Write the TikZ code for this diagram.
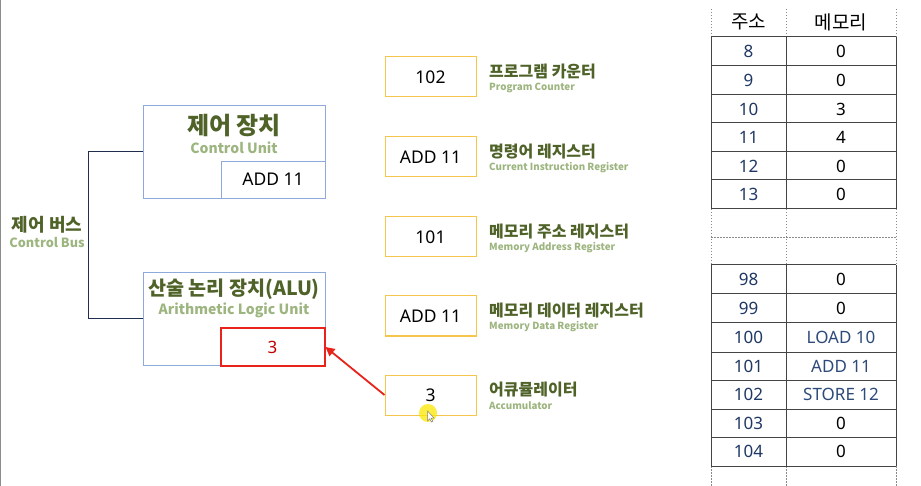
\documentclass[tikz,border=0pt]{standalone}
\usepackage{fontspec}
\setmainfont{Noto Sans CJK KR}
\newfontfamily\latinf{Noto Sans}
\usetikzlibrary{arrows.meta}
\definecolor{ttl}{HTML}{4F6228}
\definecolor{sub}{HTML}{9DB57F}
\definecolor{bluebox}{HTML}{8EAADB}
\definecolor{goldbox}{HTML}{F5C54E}
\definecolor{redbox}{HTML}{E8231A}
\definecolor{redtxt}{HTML}{C00000}
\definecolor{navy}{HTML}{1F3864}
\definecolor{instr}{HTML}{2E4A7A}
\definecolor{busc}{HTML}{1F2D4F}
\definecolor{grid}{HTML}{444444}
\definecolor{dash}{HTML}{8A8A8A}
\tikzset{
  unitbox/.style={draw=bluebox, line width=0.9pt, minimum width=182pt, minimum height=93pt, inner sep=0pt},
  irbox/.style={draw=bluebox, line width=0.9pt, minimum width=104pt, minimum height=37pt, inner sep=0pt, font=\latinf\fontsize{17.5}{20}\selectfont},
  accbox/.style={draw=redbox, line width=2pt, minimum width=104pt, minimum height=37pt, inner sep=0pt, text=redtxt, font=\latinf\fontsize{17}{20}\selectfont},
  regbox/.style={draw=goldbox, line width=1pt, minimum width=91pt, minimum height=40pt, inner sep=0pt, font=\latinf\fontsize{17.5}{20}\selectfont},
  bigtitle/.style={text=ttl, font=\fontsize{24}{26}\selectfont\bfseries, inner sep=0pt},
  bigsub/.style={text=sub, font=\fontsize{14}{16}\selectfont\bfseries, inner sep=0pt},
  regkr/.style={anchor=west, text=ttl, font=\fontsize{16}{18}\selectfont\bfseries, inner sep=0pt},
  regen/.style={anchor=west, text=sub, font=\fontsize{9.8}{11}\selectfont\bfseries, inner sep=0pt},
  addr/.style={text=navy, font=\latinf\fontsize{17}{20}\selectfont, inner sep=0pt},
  memv/.style={text=black, font=\latinf\fontsize{17}{20}\selectfont, inner sep=0pt},
  memi/.style={text=instr, font=\latinf\fontsize{17}{20}\selectfont, inner sep=0pt},
  hdr/.style={text=black, font=\fontsize{19}{22}\selectfont, inner sep=0pt},
  gridline/.style={draw=grid, line width=1pt},
  dashline/.style={draw=dash, line width=0.9pt, dash pattern=on 1.5pt off 1.5pt},
}
\begin{document}
\begin{tikzpicture}[x=1pt,y=-1pt]
\useasboundingbox (0,0) rectangle (921,486);
\fill[white] (0,0) rectangle (921,486);
\fill[gray!90] (0,0) rectangle (1.4,486);

% Control unit
\node[unitbox] (cu) at (234,151.5) {};
\node[irbox] (cuir) at (273,179.5) {ADD 11};
\node[bigtitle] (cut) at (234,126) {제어 장치};
\node[bigsub] (cus) at (234,148) {Control Unit};

% ALU
\node[unitbox] (alu) at (234,318.5) {};
\node[accbox] (alur) at (272.5,347) {3};
\node[bigtitle, font=\fontsize{19.6}{22}\selectfont\bfseries] (alut) at (234,289) {산술 논리 장치(ALU)};
\node[bigsub] (alus) at (234,310) {Arithmetic Logic Unit};

% Control bus
\draw[busc, line width=1.6pt] (cu.west) -- ++(-54,0) |- (alu.west);
\node[bigtitle, font=\fontsize{18}{20}\selectfont\bfseries] (busk) at (47,225) {제어 버스};
\node[bigsub, font=\fontsize{12.7}{14}\selectfont\bfseries] (buse) at (47,243) {Control Bus};

% Registers
\node[regbox] (pc) at (430.5,77) {102};
\node[regkr] (pck) at (489,72) {프로그램 카운터};
\node[regen] (pce) at (489,87.5) {Program Counter};

\node[regbox] (ir) at (430.5,157) {ADD 11};
\node[regkr] (irk) at (489,152) {명령어 레지스터};
\node[regen] (ire) at (489,167.5) {Current Instruction Register};

\node[regbox] (mar) at (430.5,237) {101};
\node[regkr] (mark) at (489,232) {메모리 주소 레지스터};
\node[regen] (mare) at (489,247.5) {Memory Address Register};

\node[regbox] (mdr) at (430.5,316) {ADD 11};
\node[regkr] (mdrk) at (489,311) {메모리 데이터 레지스터};
\node[regen] (mdre) at (489,326.5) {Memory Data Register};

\node[regbox] (acc) at (430.5,395) {3};
\node[regkr] (acck) at (489,390) {어큐뮬레이터};
\node[regen] (acce) at (489,405.5) {Accumulator};

% Arrow accumulator -> ALU
\draw[redbox, line width=1.8pt, -{Triangle[length=9pt,width=9pt]}] (acc.west) -- (alur.east);

% cursor highlight
\fill[yellow!90!orange, opacity=0.75] (428,413) circle (9);
\draw[gray, fill=white, line width=0.5pt] (427.5,411) -- (427.5,421) -- (429.7,418.8) -- (431.5,422) -- (432.8,421.3) -- (431.1,418.2) -- (434,418) -- cycle;

% Memory table
\draw[dashline] (711,9) -- (711,37) (786,9) -- (786,37) (896,9) -- (896,37);
\draw[dashline] (711,209) -- (711,265) (786,209) -- (786,265) (896,209) -- (896,265);
\draw[dashline] (711,237.5) -- (896,237.5);
\draw[dashline] (711,466) -- (711,486) (786,466) -- (786,486) (896,466) -- (896,486);
\node[hdr] (h1) at (748.5,22) {주소};
\node[hdr] (h2) at (841,22) {메모리};

\foreach \y in {37,66,95,123,152,180,209} \draw[gridline] (711,\y) -- (896,\y);
\foreach \x in {711,786,896} \draw[gridline] (\x,37) -- (\x,209);
\foreach \y in {265,294,323,352,380,409,437,466} \draw[gridline] (711,\y) -- (896,\y);
\foreach \x in {711,786,896} \draw[gridline] (\x,265) -- (\x,466);

\foreach \a/\m/\y [count=\i] in {8/0/51.5, 9/0/80.5, 10/3/109, 11/4/137.5, 12/0/166, 13/0/194.5}{
  \node[addr] (a\i) at (748.5,\y) {\a};
  \node[memv] (m\i) at (841,\y) {\m};
}
\node[addr] (b1) at (748.5,279.5) {98};   \node[memv] (n1) at (841,279.5) {0};
\node[addr] (b2) at (748.5,308.5) {99};   \node[memv] (n2) at (841,308.5) {0};
\node[addr] (b3) at (748.5,337.5) {100};  \node[memi] (n3) at (841,337.5) {LOAD 10};
\node[addr] (b4) at (748.5,366) {101};    \node[memi] (n4) at (841,366) {ADD 11};
\node[addr] (b5) at (748.5,394.5) {102};  \node[memi] (n5) at (841,394.5) {STORE 12};
\node[addr] (b6) at (748.5,423) {103};    \node[memv] (n6) at (841,423) {0};
\node[addr] (b7) at (748.5,451.5) {104};  \node[memv] (n7) at (841,451.5) {0};
\end{tikzpicture}
\end{document}
